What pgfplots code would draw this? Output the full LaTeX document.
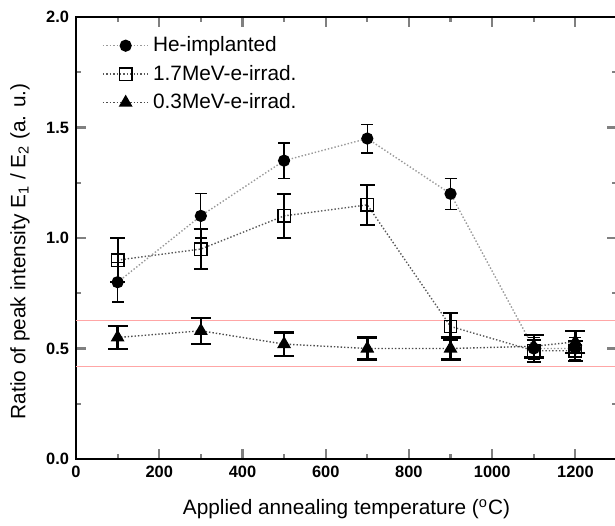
\documentclass[border=0pt]{standalone}
\usepackage{pgfplots}
\pgfplotsset{compat=1.18}
\usepackage{fontspec}
\setmainfont{Liberation Sans}

\begin{document}
\begin{tikzpicture}
\begin{axis}[
    scale only axis,
    width=270.5pt, height=221pt,
    xmin=0, xmax=1300,
    ymin=0, ymax=2.0,
    xtick={0,200,...,1200},
    ytick={0,0.5,...,2.0},
    minor x tick num=1,
    minor y tick num=1,
    axis line style={line width=1.2pt},
    major tick style={line width=1.1pt},
    minor tick style={line width=1.1pt},
    major tick length=5pt,
    minor tick length=2.5pt,
    tick align=inside,
    /pgf/number format/assume math mode=true,
    tick label style={font=\bfseries\fontsize{8.2}{9}\selectfont},
    y tick label style={/pgf/number format/.cd, fixed, fixed zerofill, precision=1},
    x tick label style={/pgf/number format/1000 sep={}},
    label style={font=\fontsize{10.4}{12}\selectfont},
    xlabel={Applied annealing temperature (\textsuperscript{o}C)},
    ylabel={Ratio of peak intensity E\textsubscript{1} / E\textsubscript{2} (a. u.)},
    xlabel style={at={(axis description cs:0.5,0)}, anchor=center, yshift=-25pt},
    ylabel style={at={(axis description cs:0,0.47)}, anchor=center, yshift=28pt},
    legend style={draw=none, fill=none, at={(axis description cs:0.044,0.97)}, anchor=north west,
        font=\fontsize{10.4}{12}\selectfont, row sep=1.2pt, inner sep=1pt},
    legend cell align=left,
    legend image code/.code={
        \draw[mark repeat=2,mark phase=2] plot coordinates {(0cm,0cm)(0.4cm,0cm)(0.8cm,0cm)};
    },
    error bars/y dir=both,
    error bars/y explicit,
]

% red band limits
\addplot[red!35, line width=0.45pt, forget plot] coordinates {(0,0.626) (1300,0.626)};
\addplot[red!35, line width=0.45pt, forget plot] coordinates {(0,0.419) (1300,0.419)};

% He-implanted
\addplot[black!40, densely dotted, line width=0.7pt,
    mark=*, mark size=2.7pt, mark options={solid, fill=black, draw=black},
    error bars/error bar style={solid, black, line width=0.6pt},
    error bars/error mark options={rotate=90, mark size=3pt, line width=0.6pt, black}]
    coordinates {
    (100, 0.80) +- (0, 0.09)
    (300, 1.10) +- (0, 0.10)
    (500, 1.35) +- (0, 0.08)
    (700, 1.45) +- (0, 0.065)
    (900, 1.20) +- (0, 0.07)
    (1100, 0.50) +- (0, 0.05)
    (1200, 0.50) +- (0, 0.05)
};
\addlegendentry{He-implanted}

% 1.7MeV
\addplot[black!65, densely dotted, line width=0.7pt,
    mark=square, mark size=3.1pt, mark options={solid, fill=white, draw=black, line width=0.7pt},
    error bars/error bar style={solid, black, line width=1.1pt},
    error bars/error mark options={rotate=90, mark size=3.6pt, line width=1.1pt, black}]
    coordinates {
    (100, 0.90) +- (0, 0.10)
    (300, 0.95) +- (0, 0.09)
    (500, 1.10) +- (0, 0.10)
    (700, 1.15) +- (0, 0.09)
    (900, 0.60) +- (0, 0.06)
    (1100, 0.49) +- (0, 0.05)
    (1200, 0.49) +- (0, 0.045)
};
\addlegendentry{1.7MeV-e-irrad.}

% 0.3MeV
\addplot[black!70, densely dotted, line width=0.7pt,
    mark=triangle*, mark size=3.3pt, mark options={solid, fill=black, draw=black},
    error bars/error bar style={solid, black, line width=1.2pt},
    error bars/error mark options={rotate=90, mark size=5pt, line width=1.2pt, black}]
    coordinates {
    (100, 0.55) +- (0, 0.053)
    (300, 0.58) +- (0, 0.059)
    (500, 0.52) +- (0, 0.053)
    (700, 0.50) +- (0, 0.05)
    (900, 0.50) +- (0, 0.05)
    (1100, 0.51) +- (0, 0.05)
    (1200, 0.53) +- (0, 0.05)
};
\addlegendentry{0.3MeV-e-irrad.}

\end{axis}
\pgfresetboundingbox
\path (current axis.south west) ++(-38pt,-33pt) rectangle ++(307.5pt,262.5pt);
\end{tikzpicture}
\end{document}
